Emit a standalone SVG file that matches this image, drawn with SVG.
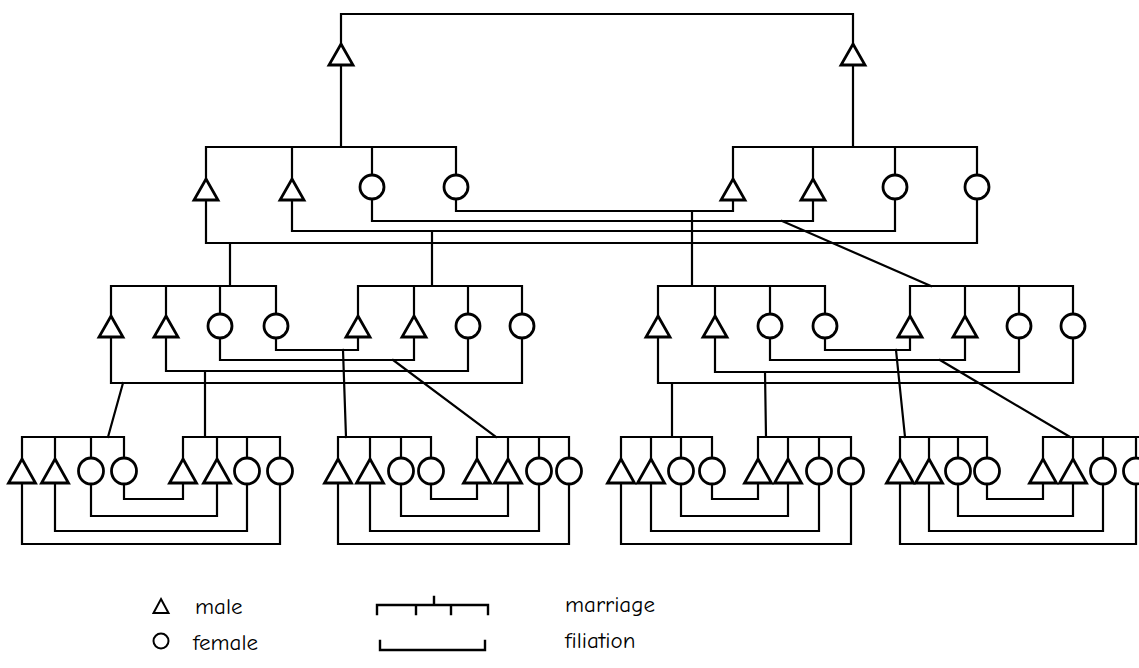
<svg xmlns="http://www.w3.org/2000/svg" width="1139" height="668" viewBox="0 0 1139 668">
<style>
.ln{fill:none;stroke:#000;stroke-width:2.2;stroke-linejoin:miter;stroke-linecap:square}
.sh{fill:#fff;stroke:#000;stroke-width:2.8;stroke-linejoin:miter}
.tx{font-family:"Comic Neue","Liberation Sans",sans-serif;font-size:23px;fill:#000}
</style>
<defs>
<path id="tri" class="sh" d="M0,0 L12,21 L-12,21 Z"/>
<path id="tri4" class="sh" d="M0,0 L13.5,24 L-13.5,24 Z"/>
<circle id="cir" class="sh" cx="0" cy="0" r="12"/>
<ellipse id="cir4" class="sh" cx="0" cy="0" rx="12.5" ry="13"/>
</defs>
<rect width="1139" height="668" fill="#fff"/>
<g id="connectors" class="ln">
<path d="M341,44 V14 H853 V44"/>
<path d="M341,65 V147 M853,65 V147"/>
<path d="M206,179 V147 H456 V175 M292,147 V179 M372,147 V175"/>
<path d="M733,179 V147 H977 V175 M813,147 V179 M895,147 V175"/>
<path d="M456,199 V211 H733 V200"/>
<path d="M372,199 V221 H813 V200"/>
<path d="M292,200 V231 H895 V199"/>
<path d="M206,200 V243 H977 V199"/>
<path d="M230,243 V286 M432,231 V286 M692,211 V286 M782,221 L931,286"/>
<path d="M111,316 V286 H276 V314 M166,286 V316 M220,286 V314"/>
<path d="M358,316 V286 H522 V314 M414,286 V316 M468,286 V314"/>
<path d="M658,316 V286 H825 V314 M715,286 V316 M770,286 V314"/>
<path d="M910,316 V286 H1073 V314 M965,286 V316 M1019,286 V314"/>
<path d="M276,338 V350 H358 V338 M220,338 V360 H414 V338 M166,338 V371 H468 V338 M111,338 V383 H522 V338"/>
<path d="M825,338 V350 H910 V338 M770,338 V360 H965 V338 M715,338 V372 H1019 V338 M658,338 V383 H1073 V338"/>
<path d="M123,383 L108,437 M205,371 V437 M343,350 L346,437 M393,360 L496,437"/>
<path d="M672,383 V437 M765,372 L766,437 M896,350 L905,437 M940,360 L1070,437"/>
<path d="M22,459 V437 H124 V458 M55,437 V459 M91,437 V458"/>
<path d="M183,459 V437 H280 V458 M217,437 V459 M247,437 V458"/>
<path d="M338,459 V437 H431 V458 M370,437 V459 M401,437 V458"/>
<path d="M477,459 V437 H569 V458 M508,437 V459 M539,437 V458"/>
<path d="M621,459 V437 H712 V458 M651,437 V459 M681,437 V458"/>
<path d="M758,459 V437 H851 V458 M788,437 V459 M819,437 V458"/>
<path d="M900,459 V437 H987 V458 M929,437 V459 M958,437 V458"/>
<path d="M1043,459 V437 H1139 M1073,437 V459 M1103,437 V458 M1136,437 V458"/>
<path d="M124,484 V499 H183 V483 M91,484 V516 H217 V483 M55,483 V531 H247 V484 M22,483 V544 H280 V484"/>
<path d="M431,484 V499 H477 V483 M401,484 V516 H508 V483 M370,483 V531 H539 V484 M338,483 V544 H569 V484"/>
<path d="M712,484 V499 H758 V483 M681,484 V516 H788 V483 M651,483 V531 H819 V484 M621,483 V544 H851 V484"/>
<path d="M987,484 V499 H1043 V483 M958,484 V516 H1073 V483 M929,483 V531 H1103 V484 M900,483 V544 H1136 V484"/>
</g>
<g id="g1-m1"><use href="#tri" x="341" y="44"/></g>
<g id="g1-m2"><use href="#tri" x="853" y="44"/></g>
<g id="g2L-m1"><use href="#tri" x="206" y="179"/></g>
<g id="g2L-m2"><use href="#tri" x="292" y="179"/></g>
<g id="g2L-f1"><use href="#cir" x="372" y="187"/></g>
<g id="g2L-f2"><use href="#cir" x="456" y="187"/></g>
<g id="g2R-m1"><use href="#tri" x="733" y="179"/></g>
<g id="g2R-m2"><use href="#tri" x="813" y="179"/></g>
<g id="g2R-f1"><use href="#cir" x="895" y="187"/></g>
<g id="g2R-f2"><use href="#cir" x="977" y="187"/></g>
<g id="g3A-m1"><use href="#tri" x="111" y="316"/></g>
<g id="g3A-m2"><use href="#tri" x="166" y="316"/></g>
<g id="g3A-f1"><use href="#cir" x="220" y="326"/></g>
<g id="g3A-f2"><use href="#cir" x="276" y="326"/></g>
<g id="g3B-m1"><use href="#tri" x="358" y="316"/></g>
<g id="g3B-m2"><use href="#tri" x="414" y="316"/></g>
<g id="g3B-f1"><use href="#cir" x="468" y="326"/></g>
<g id="g3B-f2"><use href="#cir" x="522" y="326"/></g>
<g id="g3C-m1"><use href="#tri" x="658" y="316"/></g>
<g id="g3C-m2"><use href="#tri" x="715" y="316"/></g>
<g id="g3C-f1"><use href="#cir" x="770" y="326"/></g>
<g id="g3C-f2"><use href="#cir" x="825" y="326"/></g>
<g id="g3D-m1"><use href="#tri" x="910" y="316"/></g>
<g id="g3D-m2"><use href="#tri" x="965" y="316"/></g>
<g id="g3D-f1"><use href="#cir" x="1019" y="326"/></g>
<g id="g3D-f2"><use href="#cir" x="1073" y="326"/></g>
<g id="g4A1-m1"><use href="#tri4" x="22" y="459"/></g>
<g id="g4A1-m2"><use href="#tri4" x="55" y="459"/></g>
<g id="g4A1-f1"><use href="#cir4" x="91" y="471"/></g>
<g id="g4A1-f2"><use href="#cir4" x="124" y="471"/></g>
<g id="g4A2-m1"><use href="#tri4" x="183" y="459"/></g>
<g id="g4A2-m2"><use href="#tri4" x="217" y="459"/></g>
<g id="g4A2-f1"><use href="#cir4" x="247" y="471"/></g>
<g id="g4A2-f2"><use href="#cir4" x="280" y="471"/></g>
<g id="g4B1-m1"><use href="#tri4" x="338" y="459"/></g>
<g id="g4B1-m2"><use href="#tri4" x="370" y="459"/></g>
<g id="g4B1-f1"><use href="#cir4" x="401" y="471"/></g>
<g id="g4B1-f2"><use href="#cir4" x="431" y="471"/></g>
<g id="g4B2-m1"><use href="#tri4" x="477" y="459"/></g>
<g id="g4B2-m2"><use href="#tri4" x="508" y="459"/></g>
<g id="g4B2-f1"><use href="#cir4" x="539" y="471"/></g>
<g id="g4B2-f2"><use href="#cir4" x="569" y="471"/></g>
<g id="g4C1-m1"><use href="#tri4" x="621" y="459"/></g>
<g id="g4C1-m2"><use href="#tri4" x="651" y="459"/></g>
<g id="g4C1-f1"><use href="#cir4" x="681" y="471"/></g>
<g id="g4C1-f2"><use href="#cir4" x="712" y="471"/></g>
<g id="g4C2-m1"><use href="#tri4" x="758" y="459"/></g>
<g id="g4C2-m2"><use href="#tri4" x="788" y="459"/></g>
<g id="g4C2-f1"><use href="#cir4" x="819" y="471"/></g>
<g id="g4C2-f2"><use href="#cir4" x="851" y="471"/></g>
<g id="g4D1-m1"><use href="#tri4" x="900" y="459"/></g>
<g id="g4D1-m2"><use href="#tri4" x="929" y="459"/></g>
<g id="g4D1-f1"><use href="#cir4" x="958" y="471"/></g>
<g id="g4D1-f2"><use href="#cir4" x="987" y="471"/></g>
<g id="g4D2-m1"><use href="#tri4" x="1043" y="459"/></g>
<g id="g4D2-m2"><use href="#tri4" x="1073" y="459"/></g>
<g id="g4D2-f1"><use href="#cir4" x="1103" y="471"/></g>
<g id="g4D2-f2"><use href="#cir4" x="1136" y="471"/></g>
<g id="legend">
<path class="ln" d="M161,599 L168.5,613 L153.5,613 Z" style="stroke-width:2"/>
<circle class="ln" cx="161" cy="641" r="7.5" style="stroke-width:2"/>
<text class="tx" x="195" y="614">male</text>
<text class="tx" x="193" y="650">female</text>
<path class="ln" d="M377,614 V605 H488 V614 M416,605 V614 M451,605 V614 M434,597 V605" style="stroke-width:2.4"/>
<path class="ln" d="M380,641 V650 H485 V641" style="stroke-width:2.4"/>
<text class="tx" x="565" y="612">marriage</text>
<text class="tx" x="565" y="648">filiation</text>
</g>
</svg>
